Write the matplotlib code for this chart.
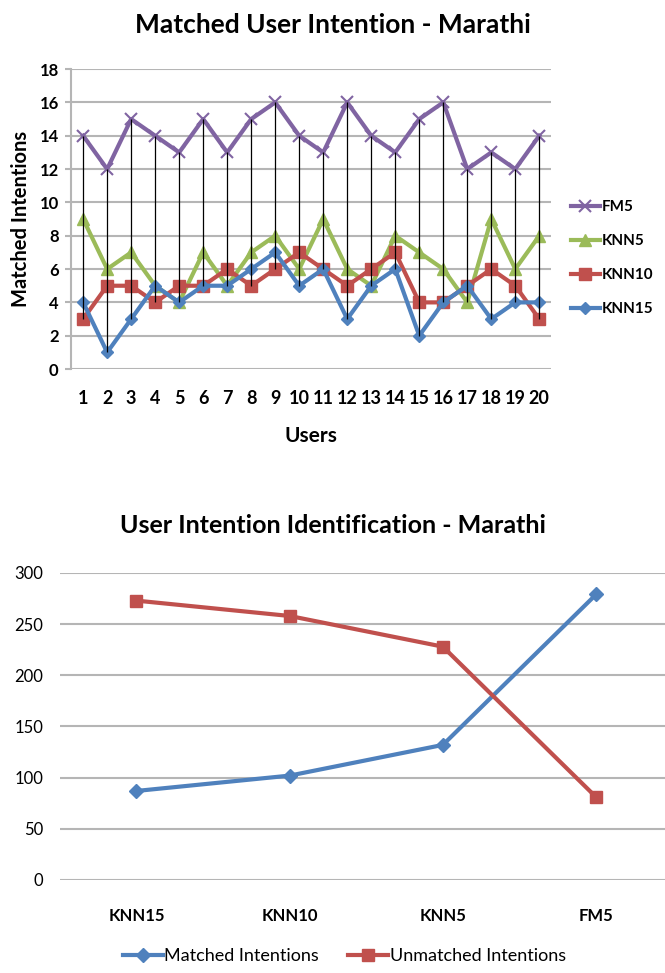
import numpy as np
import matplotlib
matplotlib.use("Agg")
import matplotlib.pyplot as plt

plt.rcParams['font.family'] = ['Lato', 'DejaVu Sans']

# top chart: matched intentions per user
users = list(range(1, 21))
fm5 = [14, 12, 15, 14, 13, 15, 13, 15, 16, 14, 13, 16, 14, 13, 15, 16, 12, 13, 12, 14]
knn5 = [9, 6, 7, 5, 4, 7, 5, 7, 8, 6, 9, 6, 5, 8, 7, 6, 4, 9, 6, 8]
knn10 = [3, 5, 5, 4, 5, 5, 6, 5, 6, 7, 6, 5, 6, 7, 4, 4, 5, 6, 5, 3]
knn15 = [4, 1, 3, 5, 4, 5, 5, 6, 7, 5, 6, 3, 5, 6, 2, 4, 5, 3, 4, 4]

# bottom chart: totals per method
methods = ['KNN15', 'KNN10', 'KNN5', 'FM5']
matched = [87, 102, 132, 279]
unmatched = [273, 258, 228, 81]

PURPLE = '#8064A2'
GREEN = '#9BBB59'
RED = '#C0504D'
BLUE = '#4F81BD'
GRID = '#b5b5b5'

fig = plt.figure(figsize=(6.65, 9.73), dpi=100)

# ---- top chart ----
ax1 = fig.add_axes([0.107, 0.6207, 0.722, 0.3083])
for y in range(0, 19, 2):
    ax1.axhline(y, color=GRID, lw=1.5, zorder=0)

series = [
    ('FM5', fm5, PURPLE, 'x', 9, 1.5),
    ('KNN5', knn5, GREEN, '^', 8, 0),
    ('KNN10', knn10, RED, 's', 8, 0),
    ('KNN15', knn15, BLUE, 'D', 6, 0),
]
for name, vals, c, m, ms, mew in series:
    ax1.plot(users, vals, color=c, lw=3, marker=m, markersize=ms,
             markeredgewidth=mew if mew else 1, markeredgecolor=c,
             label=name, zorder=3)

allv = np.array([fm5, knn5, knn10, knn15])
ax1.vlines(users, allv.min(axis=0), allv.max(axis=0), color='black', lw=0.9, zorder=5)

ax1.set_xlim(0.5, 20.5)
ax1.set_ylim(0, 18)
ax1.set_yticks(range(0, 19, 2))
ax1.set_xticks(users)
for s in ['top', 'right', 'bottom']:
    ax1.spines[s].set_visible(False)
ax1.spines['left'].set_color(GRID)
ax1.spines['left'].set_linewidth(1.5)
ax1.tick_params(axis='y', length=4, color=GRID, width=1.5, labelsize=12, pad=5)
ax1.tick_params(axis='x', length=0, labelsize=13, pad=15)
for lab in ax1.get_xticklabels() + ax1.get_yticklabels():
    lab.set_fontweight('bold')
ax1.set_xlabel('Users', fontsize=15, fontweight='bold', labelpad=14)
ax1.set_ylabel('Matched Intentions', fontsize=14.5, fontweight='bold', labelpad=6)
fig.text(0.5, 0.974, 'Matched User Intention - Marathi', ha='center', va='center',
         fontsize=19, fontweight='bold')
ax1.legend(loc='center left', bbox_to_anchor=(1.025, 0.37), frameon=False,
           prop={'size': 11, 'weight': 'bold'}, labelspacing=1.3, borderpad=0,
           handlelength=1.9, handletextpad=0.15)

# ---- bottom chart ----
ax2 = fig.add_axes([0.090, 0.0956, 0.91, 0.3155])
x = np.arange(len(methods))
for y in range(0, 301, 50):
    ax2.axhline(y, color=GRID, lw=1.5, zorder=0)
ax2.plot(x, matched, color=BLUE, lw=3, marker='D', markersize=7,
         label='Matched Intentions', zorder=3)
ax2.plot(x, unmatched, color=RED, lw=3, marker='s', markersize=8.5,
         label='Unmatched Intentions', zorder=3)
ax2.set_xlim(-0.5, 3.45)
ax2.set_ylim(0, 300)
ax2.set_yticks(range(0, 301, 50))
ax2.set_xticks(x)
ax2.set_xticklabels(methods, fontweight='bold')
for s in ax2.spines.values():
    s.set_visible(False)
ax2.tick_params(axis='y', length=0, labelsize=12, pad=12)
ax2.tick_params(axis='x', length=0, labelsize=12, pad=20)
fig.text(0.5, 0.4604, 'User Intention Identification - Marathi', ha='center', va='center',
         fontsize=18, fontweight='bold')
ax2.legend(loc='upper center', bbox_to_anchor=(0.47, -0.17), ncol=2, frameon=False,
           prop={'size': 13}, handlelength=2.2, handletextpad=0.1, columnspacing=1.6)

fig.savefig('out.png', dpi=100)
